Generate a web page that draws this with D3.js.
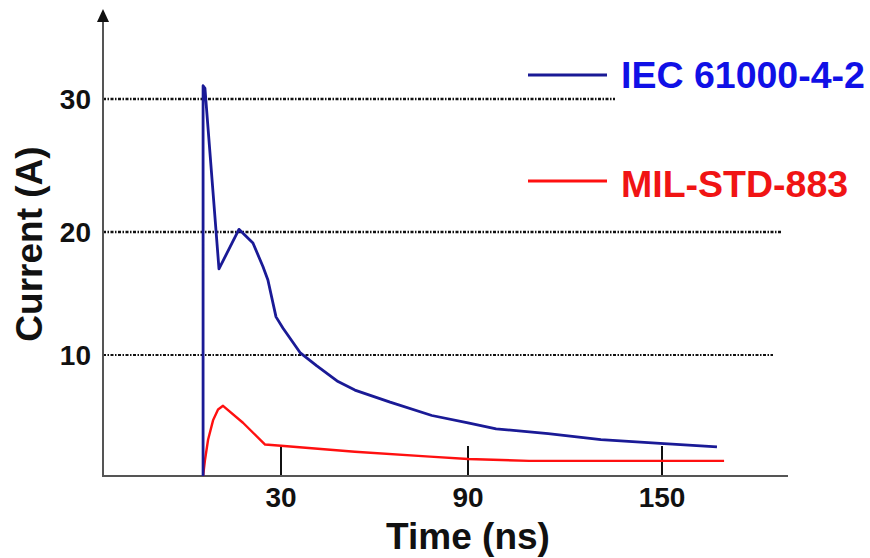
<!DOCTYPE html>
<html><head><meta charset="utf-8">
<script src="https://cdn.jsdelivr.net/npm/d3@7/dist/d3.min.js"></script>
<style>body{margin:0;background:#fff}svg{display:block}text{font-family:Arial,"Liberation Sans",sans-serif;font-weight:bold}</style>
</head><body>
<svg id="c" width="870" height="558"></svg>
<script>
// ---- data ----
const seriesNames = ["IEC 61000-4-2", "MIL-STD-883"];
const iecTime    = [5, 5, 5.6, 10.1, 16.5, 21.0, 24.2, 25.8, 28.4, 30.6, 36.1, 41.5, 48.3, 53.7, 65, 78.4, 90, 98.7, 114.8, 131.1, 149.4, 167];
const iecCurrent = [0, 31, 30.8, 17.0, 20.2, 19.1, 17.2, 16.1, 13.1, 12.2, 10.2, 9.1, 7.8, 7.1, 6.1, 5.0, 4.4, 3.9, 3.5, 3.0, 2.7, 2.4];
const milTime    = [5, 5.6, 6.6, 8.2, 9.8, 11.4, 17.8, 24.9, 30, 53.7, 77.8, 90, 108.9, 169.2];
const milCurrent = [0, 1.3, 3.0, 4.6, 5.5, 5.8, 4.4, 2.6, 2.5, 2.0, 1.6, 1.4, 1.25, 1.25];
const xTicks = [30, 90, 150];
const yTicks = [10, 20, 30];
const xLabel = "Time (ns)";
const yLabel = "Current (A)";

// ---- layout ----
const svg = d3.select("#c");
const axisX = 103, axisY = 476, axisRight = 788, axisTop = 20;
const x = d3.scaleLinear().domain([30, 90, 150]).range([281, 468, 662]);
const y = d3.scaleLinear().domain([0, 10, 20, 30]).range([476, 355, 232, 99]);
const gridEnd = {10: 773, 20: 781, 30: 615};
const gridW = {10: 2, 20: 2.6, 30: 2.6};

// gridlines
svg.append("g").selectAll("line").data(yTicks).join("line")
  .attr("x1", axisX).attr("x2", d => gridEnd[d])
  .attr("y1", d => y(d)).attr("y2", d => y(d))
  .attr("stroke", "#111").attr("stroke-width", d => gridW[d])
  .attr("stroke-dasharray", "3,1.5,1.5,1.5");

// y tick labels
svg.append("g").selectAll("text").data(yTicks).join("text")
  .attr("x", 91).attr("y", d => y(d)).attr("dy", "0.36em")
  .attr("text-anchor", "end").attr("font-size", 28).attr("fill", "#111")
  .text(d => d);

// x ticks
svg.append("g").selectAll("line").data(xTicks).join("line")
  .attr("x1", d => x(d)).attr("x2", d => x(d))
  .attr("y1", axisY).attr("y2", axisY - 30)
  .attr("stroke", "#111").attr("stroke-width", 2);
svg.append("g").selectAll("text").data(xTicks).join("text")
  .attr("x", d => x(d)).attr("y", 507)
  .attr("text-anchor", "middle").attr("font-size", 28).attr("fill", "#111")
  .text(d => d);

// axes
svg.append("line").attr("x1", axisX).attr("x2", axisRight).attr("y1", axisY).attr("y2", axisY)
  .attr("stroke", "#555").attr("stroke-width", 2);
svg.append("line").attr("x1", axisX).attr("x2", axisX).attr("y1", axisTop).attr("y2", axisY + 1)
  .attr("stroke", "#555").attr("stroke-width", 2);
svg.append("path").attr("d", `M${axisX},9 L${axisX-6},22 L${axisX+6},22 Z`).attr("fill", "#111");

// axis titles
svg.append("text").attr("x", 468).attr("y", 549).attr("text-anchor", "middle")
  .attr("font-size", 37).attr("fill", "#111").text(xLabel);
svg.append("text").attr("transform", "translate(42,244) rotate(-90)").attr("text-anchor", "middle")
  .attr("font-size", 37).attr("fill", "#111").text(yLabel);

// curves
const line = d3.line().x(d => x(d[0])).y(d => y(d[1]));
const iec = iecTime.map((t, i) => [t, iecCurrent[i]]);
const mil = milTime.map((t, i) => [t, milCurrent[i]]);
svg.append("path").datum(mil).attr("d", line).attr("fill", "none")
  .attr("stroke", "#ff1010").attr("stroke-width", 2.4).attr("stroke-linejoin", "round");
svg.append("path").datum(iec).attr("d", line).attr("fill", "none")
  .attr("stroke", "#1a1a96").attr("stroke-width", 2.8).attr("stroke-linejoin", "round");

// legend
const legend = [
  {name: seriesNames[0], line: "#1a1a96", text: "#1010e6", ly: 75, ty: 88},
  {name: seriesNames[1], line: "#ff1010", text: "#f01414", ly: 181, ty: 197}
];
const lg = svg.append("g");
lg.selectAll("line").data(legend).join("line")
  .attr("x1", 528).attr("x2", 607).attr("y1", d => d.ly).attr("y2", d => d.ly)
  .attr("stroke", d => d.line).attr("stroke-width", 3);
lg.selectAll("text").data(legend).join("text")
  .attr("x", 621).attr("y", d => d.ty).attr("font-size", 37.5)
  .attr("fill", d => d.text).text(d => d.name);
</script>
</body></html>
